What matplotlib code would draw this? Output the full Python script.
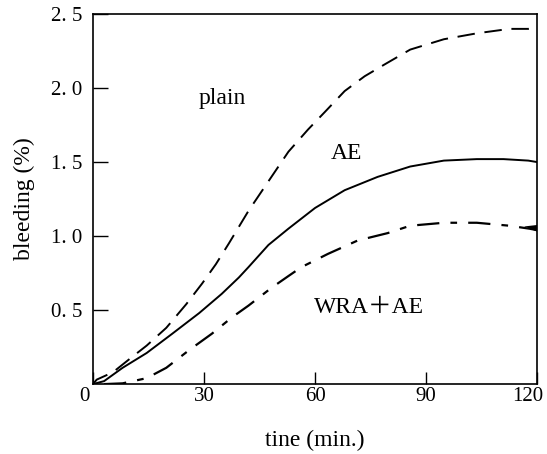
import matplotlib.pyplot as plt
import matplotlib.transforms as mtransforms

# readings (time in min, bleeding in %)
plain_t = [0, 1, 5.4, 9.9, 14.5, 19.8, 25.2, 29.5, 33.2, 36.7, 42, 47.4, 52.8, 58.1, 62.7,
           68, 73.4, 78.8, 85.7, 94.8, 103.7, 112.5, 117.6, 120]
plain_b = [0, 0.03, 0.08, 0.17, 0.26, 0.38, 0.54, 0.68, 0.81, 0.95, 1.17, 1.37, 1.57, 1.72, 1.84,
           1.98, 2.08, 2.16, 2.26, 2.33, 2.37, 2.40, 2.40, 2.41]

ae_t = [0, 3, 8, 14.5, 21.4, 28.7, 34.8, 39.4, 42, 47.4, 52.8, 60, 68, 76.9, 85.7,
        94.8, 103.7, 110.9, 117.6, 120]
ae_b = [0, 0.02, 0.11, 0.21, 0.34, 0.48, 0.61, 0.72, 0.79, 0.94, 1.05, 1.19, 1.31, 1.40, 1.47,
        1.51, 1.52, 1.52, 1.51, 1.50]

wra_t = [3, 8, 14.5, 19.8, 26, 32.1, 37.5, 42, 48.2, 52.8, 56.3, 63.5, 71.5, 79.6, 85.7,
         94.8, 103.7, 112.5, 117.9, 120]
wra_b = [0, 0.005, 0.04, 0.11, 0.23, 0.34, 0.45, 0.53, 0.65, 0.73, 0.79, 0.88, 0.97, 1.02, 1.07,
         1.09, 1.09, 1.07, 1.05, 1.04]

xticks = [0, 30, 60, 90, 120]
yticks = [0.5, 1.0, 1.5, 2.0, 2.5]
ylabels = ['0. 5', '1. 0', '1. 5', '2. 0', '2. 5']

plt.rcParams['font.family'] = ['Liberation Serif', 'DejaVu Serif']

fig = plt.figure(figsize=(5.47, 4.54), dpi=100)
ax = fig.add_axes([0.170, 0.154, 0.812, 0.815])

ax.plot(plain_t, plain_b, color='black', lw=1.4, dashes=(9, 5))
ax.plot(ae_t, ae_b, color='black', lw=1.4)
ax.plot(wra_t, wra_b, color='black', lw=1.6, dashes=(10, 5, 3, 5))
# small blob at the end of the WRA+AE curve
ax.fill([116.5, 120, 120], [1.065, 1.075, 1.03], color='black', lw=0)

ax.text(35, 1.93, 'plain', fontsize=17, ha='center', va='center')
ax.text(68.5, 1.56, 'AE', fontsize=17, ha='center', va='center')
ax.text(74.5, 0.52, 'WRA＋AE', fontsize=17, ha='center', va='center',
        family=['Liberation Serif', 'Noto Sans CJK JP'])

ax.set_xlim(0, 120)
ax.set_ylim(0, 2.49)
ax.set_xticks(xticks)
ax.set_yticks(yticks)
ax.set_yticklabels(ylabels)
ax.tick_params(axis='y', direction='in', length=11, width=1, labelsize=15, pad=8)
ax.tick_params(axis='x', direction='in', length=9, width=1, labelsize=15, pad=2)
for s in ax.spines.values():
    s.set_linewidth(1.2)

# the end labels sit a little to the left in the reference
shift = mtransforms.ScaledTranslation(-9 / 100, 0, fig.dpi_scale_trans)
xl = ax.get_xticklabels()
for lab in (xl[0], xl[-1]):
    lab.set_transform(lab.get_transform() + shift)

ax.set_xlabel('tine (min.)', fontsize=17, labelpad=17)
ax.set_ylabel('bleeding (%)', fontsize=17, labelpad=11)

fig.savefig('out.png', dpi=100)
